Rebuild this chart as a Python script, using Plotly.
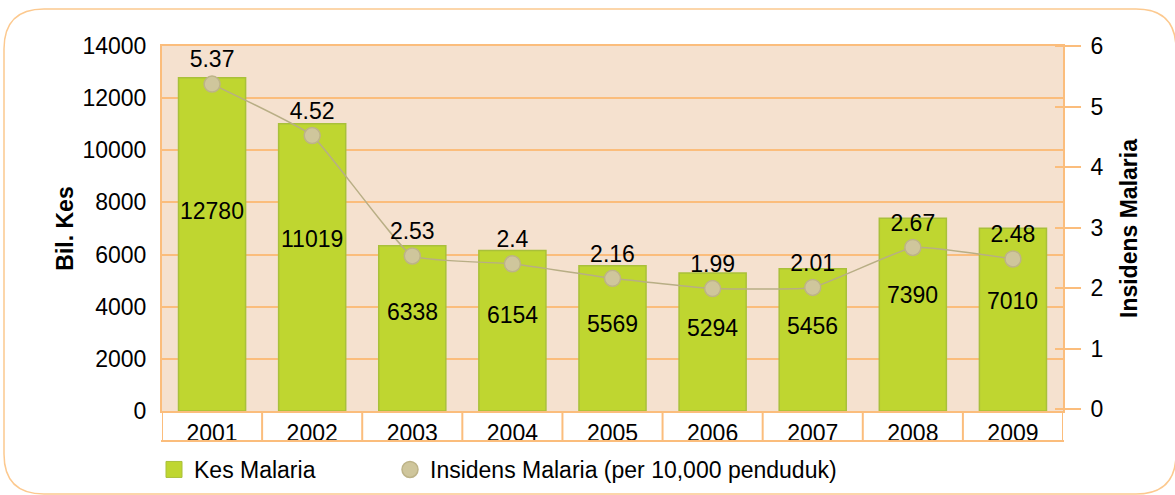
import plotly.graph_objects as go

years = ["2001", "2002", "2003", "2004", "2005", "2006", "2007", "2008", "2009"]
kes = [12780, 11019, 6338, 6154, 5569, 5294, 5456, 7390, 7010]
insidens = [5.37, 4.52, 2.53, 2.4, 2.16, 1.99, 2.01, 2.67, 2.48]

W, H = 1175, 495
L, R, T, B = 162, 112, 46, 84
ORANGE = "#fbbd7c"
FONT = "Liberation Sans, Arial, sans-serif"
FS = 23


def px(x, y):
    # pixel -> paper coords for decorations
    return (x - L) / (W - L - R), (H - B - y) / (H - T - B)


fig = go.Figure()
fig.add_trace(go.Bar(
    x=years, y=kes, name="Kes Malaria",
    marker=dict(color="#bfd630", line=dict(color="#a9c03a", width=1.5)),
    showlegend=False,
))
fig.add_trace(go.Scatter(
    x=years, y=insidens, yaxis="y2", name="Insidens Malaria (per 10,000 penduduk)",
    mode="lines+markers+text", line=dict(color="#b8ae85", width=1.5, shape="spline", smoothing=0.35),
    marker=dict(size=16, color="#cfc69c", line=dict(color="#bdb388", width=1.5)),
    text=[f"{v:g}" for v in insidens], textposition="top center",
    textfont=dict(size=FS, color="black"), showlegend=False,
))
# legend-only entries
fig.add_trace(go.Scatter(
    x=years[:1], y=[None], mode="markers", name="Kes Malaria", legend="legend",
    marker=dict(symbol="square", size=22, color="#bfd630", line=dict(color="#a9c03a", width=1)),
))
fig.add_trace(go.Scatter(
    x=years[:1], y=[None], mode="markers", name="Insidens Malaria (per 10,000 penduduk)",
    legend="legend2", marker=dict(size=16, color="#cfc69c", line=dict(color="#bdb388", width=1.5)),
))

# bar value labels, sitting a bit above the bar middle
annotations = [dict(x=i, y=v * 0.6, xref="x", yref="y", text=str(v), showarrow=False,
                    font=dict(size=FS, color="black"))
               for i, v in enumerate(kes)]

# table under the categories
table_y0 = px(0, 441)[1]
shapes = []
for k in range(len(years) + 1):
    shapes.append(dict(type="line", xref="x", yref="paper", x0=k - 0.5, x1=k - 0.5,
                       y0=table_y0, y1=0, line=dict(color=ORANGE, width=2)))
shapes.append(dict(type="line", xref="paper", yref="paper", x0=px(161, 0)[0], x1=px(1064, 0)[0],
                   y0=table_y0, y1=table_y0, line=dict(color=ORANGE, width=2)))

# rounded outer frame
x0, y0 = px(4, 9)
x1, y1 = px(1176, 494)
rx, ry = px(4 + 40, 9)[0] - x0, y0 - px(4, 9 + 40)[1]
path = (f"M {x0 + rx},{y0} L {x1 - rx},{y0} Q {x1},{y0} {x1},{y0 - ry} "
        f"L {x1},{y1 + ry} Q {x1},{y1} {x1 - rx},{y1} L {x0 + rx},{y1} "
        f"Q {x0},{y1} {x0},{y1 + ry} L {x0},{y0 - ry} Q {x0},{y0} {x0 + rx},{y0} Z")
shapes.append(dict(type="path", xref="paper", yref="paper", path=path,
                   line=dict(color="#fcc98f", width=1.5), layer="below"))

fig.update_layout(
    width=W, height=H, margin=dict(l=L, r=R, t=T, b=B, autoexpand=False),
    paper_bgcolor="white", plot_bgcolor="#f5e1cf",
    font=dict(family=FONT, size=FS, color="black"),
    bargap=0.33, shapes=shapes, annotations=annotations,
    xaxis=dict(type="category", categoryorder="array", categoryarray=years,
               range=[-0.5, len(years) - 0.5], showgrid=False, ticks="", showline=True,
               mirror=True, linecolor=ORANGE, linewidth=2, tickfont=dict(size=FS),
               ticklabelstandoff=0, automargin=False),
    yaxis=dict(range=[0, 14000], dtick=2000, tickformat="d", showgrid=True, gridcolor=ORANGE,
               gridwidth=2, showline=True, mirror=True, linecolor=ORANGE, linewidth=2,
               zeroline=False, ticks="", ticklabelstandoff=9, tickfont=dict(size=FS),
               automargin=False,
               title=dict(text="<b>Bil. Kes</b>", font=dict(size=FS), standoff=2)),
    yaxis2=dict(overlaying="y", side="right", anchor="free", position=px(1054, 0)[0],
                range=[-0.033, 6], dtick=1, showgrid=False, zeroline=False, showline=False,
                ticks="outside", ticklen=26, tickcolor=ORANGE, tickwidth=2,
                ticklabelstandoff=5, tickfont=dict(size=FS), automargin=False,
                title=dict(text="<b>Insidens Malaria</b>", font=dict(size=FS), standoff=18)),
    legend=dict(orientation="h", x=px(154, 0)[0], y=px(0, 448)[1], yanchor="top",
                font=dict(size=FS), bgcolor="rgba(0,0,0,0)"),
    legend2=dict(orientation="h", x=px(390, 0)[0], y=px(0, 448)[1], yanchor="top",
                 font=dict(size=FS), bgcolor="rgba(0,0,0,0)"),
)

fig.write_html("out.html", config={"displayModeBar": False},
               post_script="document.body.style.margin = '0';")
